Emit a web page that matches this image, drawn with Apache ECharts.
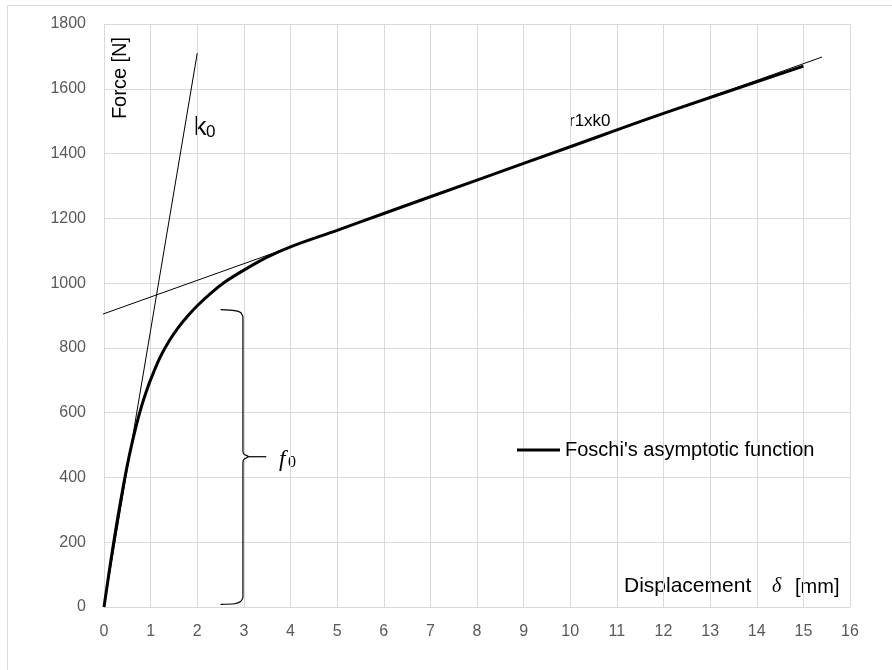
<!DOCTYPE html>
<html>
<head>
<meta charset="utf-8">
<script src="https://cdn.jsdelivr.net/npm/echarts@6/dist/echarts.min.js"></script>
<style>html,body{margin:0;padding:0;background:#fff;}#c{width:892px;height:670px;}</style>
</head>
<body>
<div id="c"></div>
<script>
// Foschi's asymptotic function
var curveDisp  = [0, 0.1, 0.2, 0.3, 0.4, 0.5, 0.6, 0.7, 0.8, 0.9, 1.0, 1.2, 1.4, 1.6, 1.8, 2.0, 2.3, 2.6, 3.0, 3.5, 4, 5, 6, 8, 10, 12, 15];
var curveForce = [0, 98, 192, 280, 362, 438, 505, 565, 617, 662, 702, 770, 822, 864, 899, 930, 970, 1004, 1040, 1080, 1112, 1163, 1215, 1318, 1421, 1524, 1670];
// initial stiffness line k0
var k0Disp  = [0, 2.0];
var k0Force = [0, 1710];
// asymptote line r1 x k0
var asymDisp  = [-0.42, 15.4];
var asymForce = [884, 1698];
// brace marking f0
var braceDisp  = [2.5, 2.8, 2.93, 2.98, 2.98, 3.0, 3.1, 3.0, 2.98, 2.98, 2.93, 2.8, 2.5];
var braceForce = [918, 915, 909, 895, 482, 472, 464, 456, 446, 30, 17, 10, 8];
var braceTickDisp  = [3.1, 3.48];
var braceTickForce = [464, 464];
var xTicks = [0,1,2,3,4,5,6,7,8,9,10,11,12,13,14,15,16];
var yTicks = [0,200,400,600,800,1000,1200,1400,1600,1800];

function pairs(a, b){ return a.map(function(v,i){ return [v, b[i]]; }); }

var chart = echarts.init(document.getElementById('c'), null, {renderer:'canvas'});
var grid = '#d9d9d9';
var tickColor = '#595959';
var font = '"Liberation Sans", Arial, sans-serif';
var serif = '"Liberation Serif", "DejaVu Serif", serif';

chart.setOption({
  animation: false,
  backgroundColor: '#fff',
  grid: {left: 104, right: 42, top: 24, bottom: 63, containLabel: false},
  xAxis: {
    type: 'value', min: xTicks[0], max: xTicks[xTicks.length-1], interval: 1,
    axisLine: {show: true, lineStyle: {color: grid, width: 1}},
    axisTick: {show: false},
    splitLine: {show: true, lineStyle: {color: grid, width: 1}},
    axisLabel: {color: tickColor, fontSize: 16, fontFamily: font, margin: 17,
      formatter: function(v){ return String(v); }}
  },
  yAxis: {
    type: 'value', min: yTicks[0], max: yTicks[yTicks.length-1], interval: 200,
    axisLine: {show: true, lineStyle: {color: grid, width: 1}},
    axisTick: {show: false},
    splitLine: {show: true, lineStyle: {color: grid, width: 1}},
    axisLabel: {color: tickColor, fontSize: 16, fontFamily: font, margin: 18,
      formatter: function(v){ return String(v); }}
  },
  legend: {
    data: ["Foschi's asymptotic function"],
    left: 512, top: 435,
    itemWidth: 43, itemHeight: 3, icon: 'rect',
    textStyle: {color: '#000', fontSize: 20, fontFamily: font}
  },
  series: [
    {
      name: 'k0line', type: 'line', data: pairs(k0Disp, k0Force),
      symbol: 'none', clip: false, lineStyle: {color: '#000', width: 1}, z: 3
    },
    {
      name: 'asym', type: 'line', data: pairs(asymDisp, asymForce),
      symbol: 'none', clip: false, lineStyle: {color: '#000', width: 1}, z: 3
    },
    {
      name: "Foschi's asymptotic function", type: 'line', data: pairs(curveDisp, curveForce),
      symbol: 'none', smooth: 0.35, clip: false, itemStyle: {color: '#000'},
      lineStyle: {color: '#000', width: 3}, z: 4
    },
    {
      name: 'brace', type: 'line', data: pairs(braceDisp, braceForce),
      symbol: 'none', smooth: 0.2, clip: false, lineStyle: {color: '#000', width: 1.2}, z: 3
    },
    {
      name: 'braceTick', type: 'line', data: pairs(braceTickDisp, braceTickForce),
      symbol: 'none', clip: false, lineStyle: {color: '#000', width: 1.2}, z: 3
    }
  ],
  graphic: [
    {type: 'rect', z: -10, silent: true, shape: {x: 7.5, y: 5.5, width: 900, height: 700},
     style: {fill: 'none', stroke: grid, lineWidth: 1}},
    {type: 'text', x: 120, y: 78, rotation: Math.PI/2,
     style: {text: 'Force [N]', fill: '#000', font: '20px ' + font, textAlign: 'center', textVerticalAlign: 'middle'}},
    {type: 'text', x: 194, y: 141,
     style: {text: 'k', fill: '#000', font: '25px ' + font, textVerticalAlign: 'bottom'}},
    {type: 'text', x: 206, y: 141,
     style: {text: '0', fill: '#000', font: '17px ' + font, textVerticalAlign: 'bottom'}},
    {type: 'text', x: 569, y: 130,
     style: {text: 'r1xk0', fill: '#000', font: '17px ' + font, textVerticalAlign: 'bottom'}},
    {type: 'text', x: 279, y: 471,
     style: {text: 'f', fill: '#000', font: 'italic 23px ' + serif, textVerticalAlign: 'bottom'}},
    {type: 'text', x: 288, y: 471,
     style: {text: '0', fill: '#000', font: '16px ' + serif, textVerticalAlign: 'bottom'}},
    {type: 'text', x: 624, y: 597,
     style: {text: 'Displacement', fill: '#000', font: '21px ' + font, textVerticalAlign: 'bottom'}},
    {type: 'text', x: 772, y: 597,
     style: {text: 'δ', fill: '#000', font: 'italic 20px ' + serif, textVerticalAlign: 'bottom'}},
    {type: 'text', x: 795, y: 597,
     style: {text: '[mm]', fill: '#000', font: '20px ' + font, textVerticalAlign: 'bottom'}}
  ]
});
</script>
</body>
</html>
